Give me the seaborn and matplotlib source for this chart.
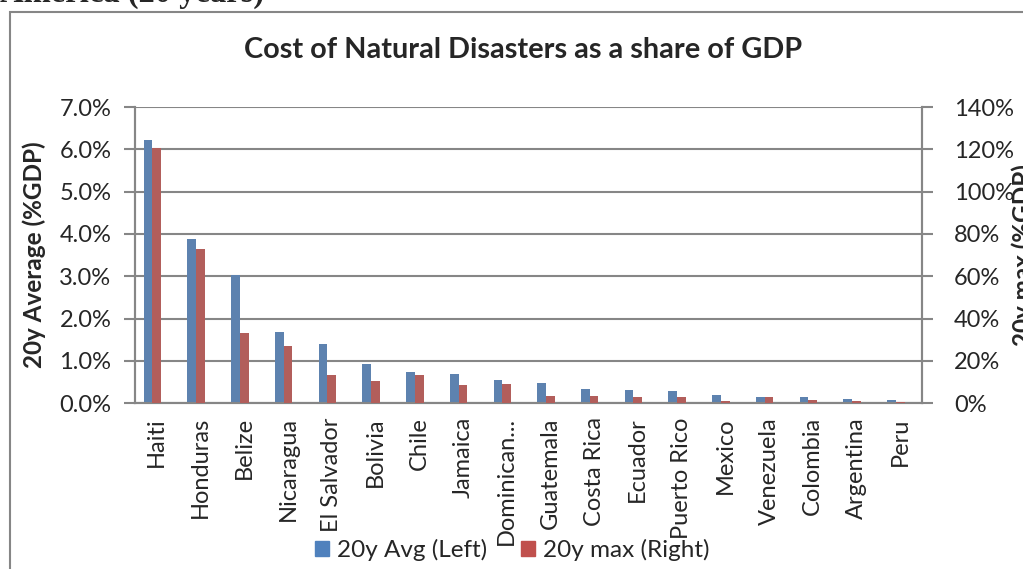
import pandas as pd
import numpy as np
import matplotlib
matplotlib.use('Agg')
import matplotlib.pyplot as plt
from matplotlib.patches import Rectangle, Patch
import seaborn as sns

# data
countries = ['Haiti', 'Honduras', 'Belize', 'Nicaragua', 'El Salvador', 'Bolivia',
             'Chile', 'Jamaica', 'Dominican...', 'Guatemala', 'Costa Rica', 'Ecuador',
             'Puerto Rico', 'Mexico', 'Venezuela', 'Colombia', 'Argentina', 'Peru']
avg_20y = [6.21, 3.89, 3.04, 1.68, 1.40, 0.92, 0.75, 0.69, 0.55, 0.49, 0.33, 0.32,
           0.29, 0.20, 0.15, 0.15, 0.10, 0.07]          # % of GDP, left axis
max_20y = [120.5, 73.0, 33.0, 27.3, 13.3, 10.6, 13.6, 8.6, 9.2, 3.6, 3.5, 3.0,
           3.0, 1.0, 3.0, 1.7, 0.9, 0.8]                # % of GDP, right axis
left_ticks = [0, 1, 2, 3, 4, 5, 6, 7]
right_ticks = [0, 20, 40, 60, 80, 100, 120, 140]
n = len(countries)

blue = '#4F81BD'
red = '#C0504D'
grey = '#868686'
pal = {'avg': blue, 'max': red, 'pad': 'white'}
order = ['avg', 'max', 'pad']

# each axis gets all three hue levels so the bars dodge side by side
nan = [np.nan] * n
df_avg = pd.DataFrame({'country': countries * 3,
                       'series': ['avg'] * n + ['max'] * n + ['pad'] * n,
                       'value': avg_20y + nan + nan})
df_max = pd.DataFrame({'country': countries * 3,
                       'series': ['avg'] * n + ['max'] * n + ['pad'] * n,
                       'value': nan + max_20y + nan})

sns.set_style('white')
plt.rcParams['font.family'] = ['Lato', 'DejaVu Sans']

fig = plt.figure(figsize=(10.23, 5.69), dpi=100)
ax = fig.add_axes([135 / 1023, 1 - 403.3 / 569, (922 - 135) / 1023, (403.3 - 107) / 569])
ax2 = ax.twinx()

sns.barplot(data=df_avg, x='country', y='value', hue='series', hue_order=order,
            palette=pal, width=0.6, dodge=True, order=countries, ax=ax, legend=False,
            edgecolor='none', zorder=3)
sns.barplot(data=df_max, x='country', y='value', hue='series', hue_order=order,
            palette=pal, width=0.6, dodge=True, order=countries, ax=ax2, legend=False,
            edgecolor='none', zorder=3)

ax.set_xlim(-0.5, n - 0.5)
ax.set_ylim(0, 7)
ax2.set_ylim(0, 140)
ax.set_yticks(left_ticks)
ax.set_yticklabels([f'{v:.1f}%' for v in left_ticks])
ax2.set_yticks(right_ticks)
ax2.set_yticklabels([f'{v}%' for v in right_ticks])

ax.grid(axis='y', color=grey, lw=1.5, zorder=0)
ax.set_axisbelow(True)
ax2.grid(False)

for a in (ax, ax2):
    a.spines['top'].set_visible(False)
    for s in ('left', 'right', 'bottom'):
        a.spines[s].set_color(grey)
        a.spines[s].set_linewidth(1.5)

fs = 17
ax.set_xticks(range(n))
ax.set_xticklabels(countries, rotation=90, fontsize=fs)
ax.set_xticks(np.arange(n + 1) - 0.5, minor=True)
ax.tick_params(axis='x', which='major', length=0, pad=10)
ax.tick_params(axis='x', which='minor', length=7, width=1.5, color=grey)
ax.tick_params(axis='y', length=8, width=1.5, color=grey, labelsize=fs, pad=9, left=True)
ax2.tick_params(axis='y', length=8, width=1.5, color=grey, labelsize=fs, pad=15, right=True)
ax.set_xlabel('')
ax.set_ylabel('20y Average (%GDP)', fontsize=17.5, fontweight='bold')
ax.yaxis.set_label_coords(-0.113, 0.5)
ax2.set_ylabel('20y max (%GDP)', fontsize=17.5, fontweight='bold')
ax2.yaxis.set_label_coords(1.113, 0.5)

fig.text(523 / 1023, 1 - 50 / 569, 'Cost of Natural Disasters as a share of GDP',
         ha='center', va='center', fontsize=20.8, fontweight='bold')

# outer chart frame (cut off at right/bottom in the screenshot)
fig.add_artist(Rectangle((10 / 1023, -0.1), 1.2, 1.1 - 11.7 / 569,
                         transform=fig.transFigure, fill=False, ec=grey, lw=1.5))
fig.text(0, 1 - 2 / 569, 'America (20 years)', ha='left', va='baseline',
         fontsize=23.5, fontweight='bold', family='Liberation Serif')

handles = [Patch(color=blue, label='20y Avg (Left)'), Patch(color=red, label='20y max (Right)')]
fig.legend(handles=handles, loc='center', bbox_to_anchor=(512 / 1023, 1 - 550 / 569),
           ncol=2, frameon=False, fontsize=17.5, handlelength=0.6, handleheight=0.6,
           handletextpad=0.3, columnspacing=1.4)

fig.savefig('out.png', dpi=100)
